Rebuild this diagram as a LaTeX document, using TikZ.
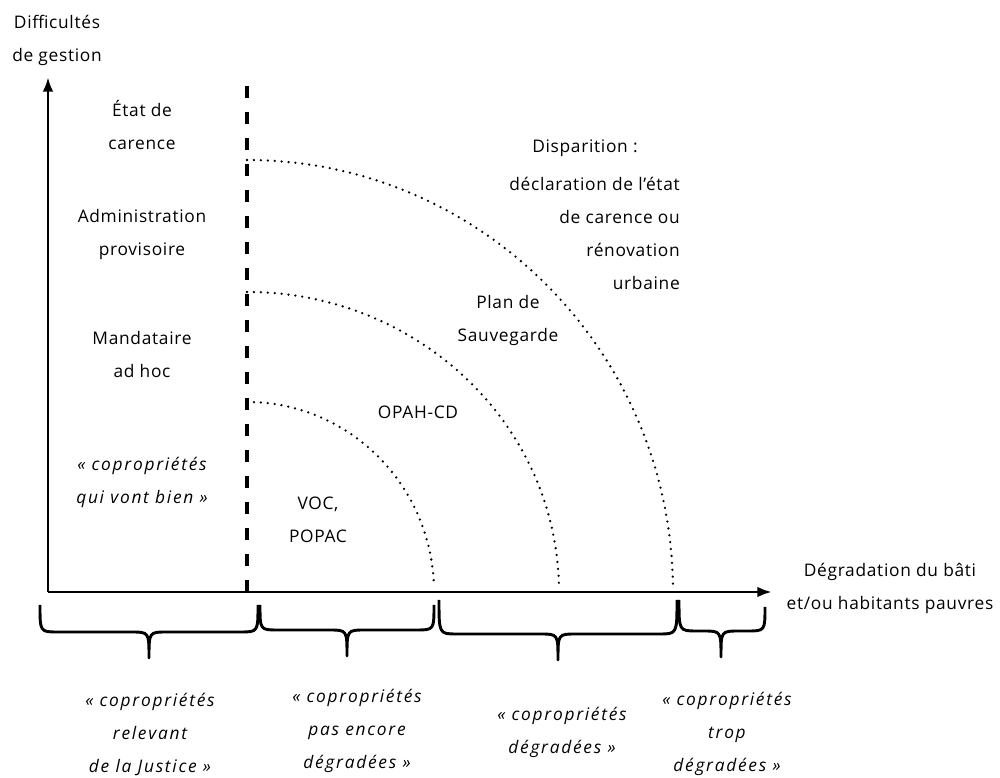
\documentclass[tikz,border=0pt]{standalone}
\usepackage{fontspec}
\setmainfont{Open Sans}[LetterSpace=4]
\usepackage{tikz}
\usetikzlibrary{arrows.meta}

\newcommand{\curlybrace}[6]{% x0, xm, x1, ytop left, ytop right, ybot
  \draw[brc] (#1,#4) .. controls (#1,#6+26) .. (#1+18,#6+26) -- (#2-18,#6+26)
    .. controls (#2,#6+26) .. (#2,#6) .. controls (#2,#6+26) .. (#2+18,#6+26)
    -- (#3-18,#6+26) .. controls (#3,#6+26) .. (#3,#5);}

\begin{document}
\begin{tikzpicture}[x=0.75pt,y=0.75pt]
\tikzstyle{txt}=[font=\fontsize{13}{24.75}\selectfont,align=center,inner sep=0pt];
\tikzstyle{itx}=[txt,font=\fontsize{13}{24.75}\selectfont\itshape\addfontfeatures{LetterSpace=10}];
\tikzstyle{axis}=[line width=2.2pt,-{Latex[length=11pt,width=8pt]}];
\tikzstyle{limit}=[line width=2.5pt,dash pattern=on 9pt off 10.5pt];
\tikzstyle{dotarc}=[line width=1.9pt,line cap=round,dash pattern=on 0pt off 5.2pt];
\tikzstyle{brc}=[line width=2.2pt,line join=round];

\useasboundingbox (0,0) rectangle (1000,778);

\coordinate (O) at (48,186);
\coordinate (ytop) at (48,701);
\coordinate (xend) at (772,186);
\coordinate (dtop) at (247,701);
\coordinate (dbot) at (247,186);

\draw[axis] (O) -- (ytop);
\draw[axis] (O) -- (xend);
\draw[limit] (dbot) -- (dtop);

\draw[dotarc] (247,618) arc[start angle=90,end angle=1,x radius=426,y radius=432];
\draw[dotarc] (247,486) arc[start angle=90,end angle=1,x radius=312,y radius=300];
\draw[dotarc] (247,376) arc[start angle=90,end angle=2,x radius=187,y radius=190];

\node[txt] (ylab) at (57,738) {Difficultés\\de gestion};
\node[txt] (carence) at (142,653) {État de\\carence};
\node[txt] (admin) at (142,543) {Administration\\provisoire};
\node[txt] (mandat) at (142,423) {Mandataire\\ad hoc};
\node[itx] (bien) at (142,296) {« copropriétés\\qui vont bien »};
\node[txt] (disp) at (585,630) {Disparition :};
\node[txt,align=right,anchor=east] (decl) at (680,545) {déclaration de l’état\\de carence ou\\rénovation\\urbaine};
\node[txt] (plan) at (508,457) {Plan de\\Sauvegarde};
\node[txt] (opah) at (418,366) {OPAH-CD};
\node[txt] (voc) at (318,258) {VOC,\\POPAC};
\node[txt] (xlab) at (890,190) {Dégradation du bâti\\et/ou habitants pauvres};

\curlybrace{40}{149}{258}{173}{173}{120}
\curlybrace{260}{347}{434}{173}{173}{122}
\curlybrace{439}{558}{677}{178}{178}{118}
\curlybrace{679}{721}{765}{178}{171}{121}

\node[itx] (justice) at (150,44) {« copropriétés\\relevant\\de la Justice »};
\node[itx] (encore) at (357,47) {« copropriétés\\pas encore\\dégradées »};
\node[itx] (degr) at (562,46) {« copropriétés\\dégradées »};
\node[itx] (trop) at (727,44) {« copropriétés\\trop\\dégradées »};
\end{tikzpicture}
\end{document}
